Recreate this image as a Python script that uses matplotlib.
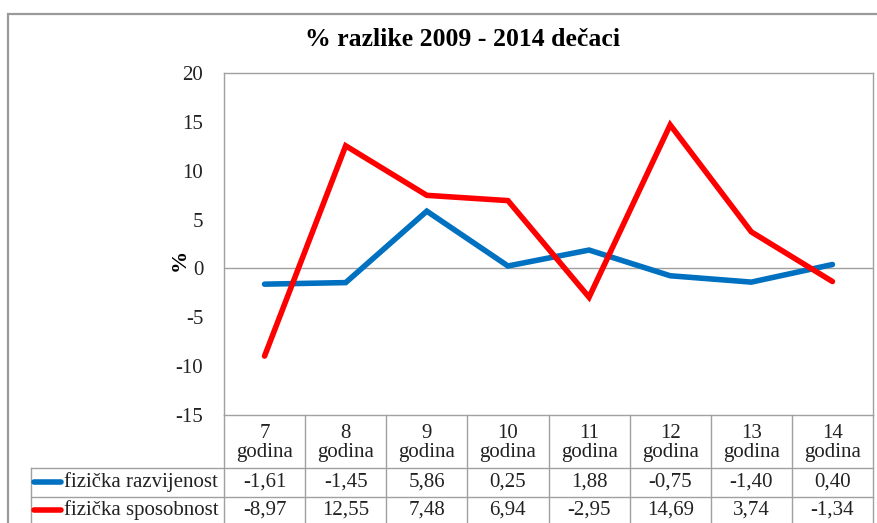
import matplotlib
matplotlib.use("Agg")
import matplotlib.pyplot as plt
import matplotlib.transforms as mtransforms
from matplotlib.patches import Rectangle
from matplotlib.lines import Line2D

# podaci
categories = ["7\ngodina", "8\ngodina", "9\ngodina", "10\ngodina",
              "11\ngodina", "12\ngodina", "13\ngodina", "14\ngodina"]
razvijenost = [-1.61, -1.45, 5.86, 0.25, 1.88, -0.75, -1.40, 0.40]
sposobnost = [-8.97, 12.55, 7.48, 6.94, -2.95, 14.69, 3.74, -1.34]
series_names = ["fizička razvijenost", "fizička sposobnost"]
yticks = [-15, -10, -5, 0, 5, 10, 15, 20]

BLUE, RED = "#0070C0", "#FF0000"
GRAY = "#A0A0A0"
FONT = "Liberation Serif"

W, H = 877, 523
fig = plt.figure(figsize=(W / 100, H / 100), dpi=100)

def fy(y):  # piksel od vrha -> figure fraction
    return 1 - y / H

# okvir grafikona
fig.patches.append(Rectangle((8 / W, -0.05), 1.2, fy(14) + 0.05, transform=fig.transFigure,
                             fill=False, edgecolor="#9A9A9A", lw=1.6))

L, R, T, B = 224, 873, 73, 415
ax = fig.add_axes([L / W, fy(B), (R - L) / W, (B - T) / H])
x = list(range(len(categories)))
ax.plot(x, razvijenost, color=BLUE, lw=4, solid_capstyle="round", solid_joinstyle="miter", zorder=3)
ax.plot(x, sposobnost, color=RED, lw=4, solid_capstyle="round", solid_joinstyle="miter", zorder=4)
ax.axhline(0, color=GRAY, lw=1, zorder=1)
ax.set_xlim(-0.5, len(categories) - 0.5)
ax.set_ylim(-15, 20)
ax.set_yticks(yticks)
ax.set_yticklabels([str(t) for t in yticks], fontsize=15, family=FONT, color="#222")
ax.tick_params(axis="y", length=0, pad=15)
ax.set_xticks([])
for sp in ax.spines.values():
    sp.set_color(GRAY); sp.set_linewidth(1)
ax.set_ylabel("%", fontsize=16, family=FONT, fontweight="bold")
ax.yaxis.set_label_coords((190 - L) / (R - L), (B - 260) / (B - T))

fig.text(463 / W, fy(40), "% razlike 2009 - 2014 dečaci", ha="center", va="center",
         fontsize=18.5, fontweight="bold", family=FONT)

# tablica podataka
tr = mtransforms.blended_transform_factory(ax.transData, fig.transFigure)
row_lines = [468, 497]
for i in range(len(categories) + 1):
    fig.add_artist(Line2D([i - 0.5, i - 0.5], [fy(B), fy(530)], transform=tr, color=GRAY, lw=1))
for ry in row_lines:
    fig.add_artist(Line2D([31 / W, R / W], [fy(ry), fy(ry)], transform=fig.transFigure, color=GRAY, lw=1))
fig.add_artist(Line2D([31 / W, 31 / W], [fy(468), fy(530)], transform=fig.transFigure, color=GRAY, lw=1))

for i, c in enumerate(categories):
    fig.text(i, fy(443), c, transform=tr, ha="center", va="center", fontsize=15,
             family=FONT, color="#222", linespacing=1.0)

rows = [(razvijenost, BLUE, 482), (sposobnost, RED, 510)]
for (vals, col, yy), name in zip(rows, series_names):
    fig.add_artist(Line2D([34 / W, 61 / W], [fy(yy), fy(yy)], transform=fig.transFigure,
                          color=col, lw=4, solid_capstyle="round"))
    fig.text(64 / W, fy(yy), name, ha="left", va="center", fontsize=15, family=FONT, color="#222")
    for i, v in enumerate(vals):
        fig.text(i, fy(yy), f"{v:.2f}".replace(".", ","), transform=tr, ha="center", va="center",
                 fontsize=15, family=FONT, color="#222")

fig.savefig("out.png", dpi=100, facecolor="white")
